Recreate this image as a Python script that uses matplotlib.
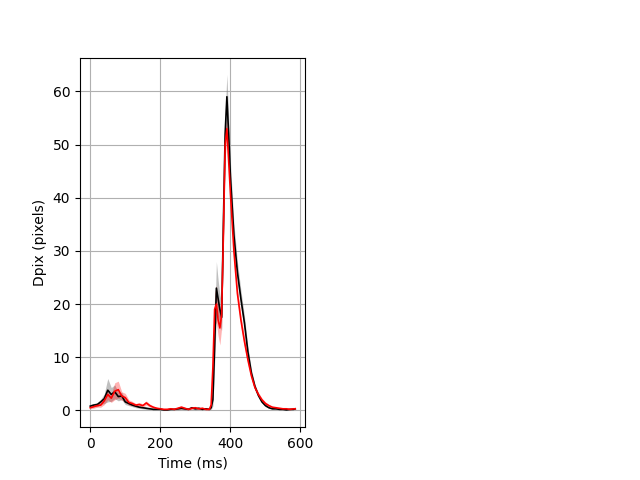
import matplotlib
matplotlib.use("Agg")
import matplotlib.pyplot as plt
import numpy as np

time_ms = [0, 10, 20, 30, 40, 50, 60, 70, 80, 90, 100, 110, 120, 130, 140, 150, 160, 170, 180, 190,
           200, 210, 220, 230, 240, 250, 260, 270, 280, 290, 300, 310, 320, 330, 340,
           345, 350, 355, 360, 365, 370, 375, 380, 385, 390, 395, 400,
           410, 420, 430, 440, 450, 460, 470, 480, 490, 500, 510, 520, 530, 540, 550, 560, 570, 580, 585]

black_mean = [0.8, 1.0, 1.1, 1.6, 2.2, 3.8, 3.0, 3.5, 2.6, 2.7, 1.6, 1.3, 1.0, 0.8, 0.6, 0.5, 0.4, 0.3, 0.2, 0.2,
              0.2, 0.1, 0.1, 0.2, 0.2, 0.3, 0.4, 0.3, 0.2, 0.5, 0.3, 0.4, 0.2, 0.3, 0.2,
              0.5, 2.0, 12.0, 23.0, 21.0, 19.0, 17.5, 35.0, 52.0, 59.0, 52.0, 44.0,
              33.0, 26.0, 21.0, 16.5, 11.0, 7.0, 4.5, 2.8, 1.6, 0.9, 0.5, 0.3, 0.3, 0.2, 0.2, 0.1, 0.2, 0.2, 0.3]
black_sem = [0.3, 0.3, 0.4, 0.5, 0.9, 2.2, 1.3, 1.3, 0.8, 0.7, 0.5, 0.4, 0.3, 0.3, 0.2, 0.2, 0.2, 0.1, 0.1, 0.1,
             0.1, 0.1, 0.1, 0.1, 0.1, 0.2, 0.2, 0.2, 0.1, 0.2, 0.2, 0.2, 0.1, 0.1, 0.1,
             0.3, 1.2, 3.5, 5.0, 3.5, 2.8, 2.5, 3.5, 4.0, 4.2, 3.5, 2.8,
             2.2, 2.0, 1.6, 1.3, 1.0, 0.7, 0.5, 0.3, 0.2, 0.2, 0.1, 0.1, 0.1, 0.1, 0.1, 0.1, 0.1, 0.1, 0.1]

red_mean = [0.5, 0.7, 0.9, 1.0, 1.8, 3.0, 2.3, 3.6, 3.9, 2.7, 2.4, 1.5, 1.3, 1.0, 1.1, 0.9, 1.4, 0.9, 0.6, 0.4,
            0.3, 0.2, 0.2, 0.3, 0.2, 0.4, 0.6, 0.4, 0.2, 0.4, 0.5, 0.3, 0.4, 0.2, 0.2,
            1.0, 8.0, 19.0, 20.0, 17.0, 15.5, 18.0, 33.0, 50.0, 53.0, 47.0, 41.0,
            30.0, 22.0, 17.0, 13.0, 9.5, 6.5, 4.3, 3.0, 2.0, 1.3, 0.9, 0.6, 0.5, 0.4, 0.3, 0.3, 0.2, 0.3, 0.3]
red_sem = [0.2, 0.3, 0.3, 0.4, 0.7, 1.0, 0.8, 1.6, 1.6, 0.8, 0.8, 0.5, 0.4, 0.3, 0.4, 0.3, 0.4, 0.3, 0.2, 0.2,
           0.1, 0.1, 0.1, 0.1, 0.1, 0.2, 0.3, 0.2, 0.1, 0.2, 0.2, 0.1, 0.2, 0.1, 0.1,
           0.5, 2.0, 3.0, 3.5, 3.0, 3.2, 2.5, 2.5, 2.5, 2.2, 2.0, 2.0,
           1.5, 1.2, 1.0, 1.0, 0.8, 0.7, 0.5, 0.4, 0.3, 0.3, 0.2, 0.1, 0.1, 0.1, 0.1, 0.1, 0.1, 0.1, 0.1]

t = np.array(time_ms)
bm, bs = np.array(black_mean), np.array(black_sem)
rm, rs = np.array(red_mean), np.array(red_sem)

fig = plt.figure(figsize=(6.4, 4.8), dpi=100)
ax = fig.add_subplot(1, 2, 1)
ax.fill_between(t, bm - bs, bm + bs, color="gray", alpha=0.5, linewidth=0)
ax.fill_between(t, rm - rs, rm + rs, color="red", alpha=0.3, linewidth=0)
ax.plot(t, bm, color="black", linewidth=1.2)
ax.plot(t, rm, color="red", linewidth=1.2)
ax.set_xlabel("Time (ms)")
ax.set_ylabel("Dpix (pixels)")
ax.grid(True)
ax.set_axisbelow(True)
fig.savefig("out.png", dpi=100)
